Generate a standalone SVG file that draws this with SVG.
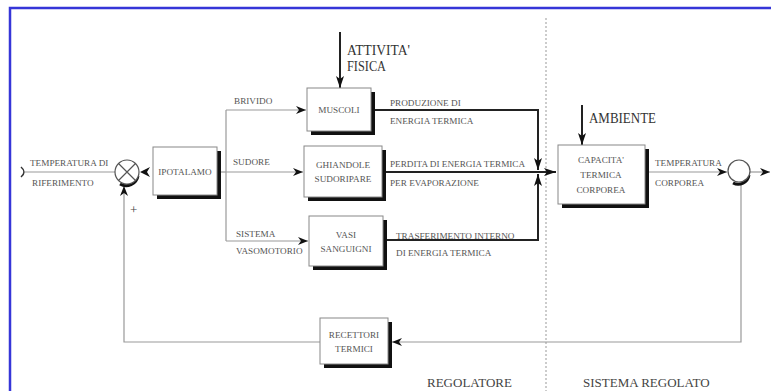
<svg xmlns="http://www.w3.org/2000/svg" width="771" height="391" viewBox="0 0 771 391">
<defs>
<marker id="ah" markerWidth="10" markerHeight="8" refX="10" refY="4" orient="auto" markerUnits="userSpaceOnUse">
<path d="M0,0 L10,4 L0,8 L3,4 z" fill="#111"/>
</marker>
<marker id="ahb" markerWidth="12" markerHeight="8" refX="12" refY="4" orient="auto" markerUnits="userSpaceOnUse">
<path d="M0,0 L12,4 L0,8 L3,4 z" fill="#111"/>
</marker>
</defs>
<style>
.box{fill:#fff;stroke:#888;stroke-width:1}
.sh{fill:#111}
.lab{font-family:"Liberation Serif",serif;font-size:9.2px;fill:#555}
.big{font-family:"Liberation Serif",serif;font-size:15px;fill:#333}
.sec{font-family:"Liberation Serif",serif;font-size:13px;fill:#444}
.thin{fill:none;stroke:#999;stroke-width:1.2}
.thick{fill:none;stroke:#222;stroke-width:2}
</style>
<rect x="10" y="8" width="800" height="400" fill="none" stroke="#3636d8" stroke-width="2.5"/>
<line x1="546" y1="18" x2="546" y2="391" stroke="#999" stroke-width="1" stroke-dasharray="2,2"/>

<g id="connectors">
<path d="M25,172 H115" class="thin"/>
<path d="M220,172 H226" class="thin"/>
<path d="M226,110 V241" class="thin"/>
<path d="M226,110 H306" class="thin" marker-end="url(#ah)"/>
<path d="M226,172 H303" class="thin" marker-end="url(#ah)"/>
<path d="M226,241 H308" class="thin" marker-end="url(#ah)"/>
<path d="M340,32 V88" class="thick" marker-end="url(#ahb)"/>
<path d="M582,105 V145" class="thick" stroke-width="1.6" marker-end="url(#ahb)"/>
<path d="M375,110 H538 V170" class="thick" marker-end="url(#ahb)"/>
<path d="M386,240 H538 V174" class="thick" marker-end="url(#ahb)"/>
<path d="M386,172 H556" class="thick" marker-end="url(#ahb)"/>
<path d="M649,172 H727" class="thin" stroke="#666" marker-end="url(#ah)"/>
<path d="M750,172 H770" class="thin" stroke="#666" marker-end="url(#ah)"/>
<path d="M741,183 V342 H392" class="thin" marker-end="url(#ah)"/>
<path d="M320,342 H124 V186" class="thin" marker-end="url(#ah)"/>
<path d="M150,167 L140,172 L150,177 L147,172 z" fill="#111"/>
</g>

<g id="input">
<path d="M21,167 Q27,172 21,177" fill="none" stroke="#333" stroke-width="1.5"/>
<text class="lab" x="30" y="166">TEMPERATURA DI</text>
<text class="lab" x="32" y="186">RIFERIMENTO</text>
</g>

<g id="sum1">
<path d="M138,176 A12,12 0 0 1 120,184" fill="none" stroke="#111" stroke-width="3"/>
<circle cx="127" cy="172" r="12" fill="#fff" stroke="#555" stroke-width="1.2"/>
<path d="M118.5,163.5 L135.5,180.5 M135.5,163.5 L118.5,180.5" stroke="#555" stroke-width="1.2"/>
<text x="130" y="214" style="font-family:'Liberation Serif',serif;font-size:13px;fill:#444">+</text>
</g>

<g id="ipotalamo">
<rect class="sh" x="157" y="151" width="64" height="48"/>
<rect class="box" x="153" y="147" width="64" height="48"/>
<text class="lab" x="185" y="175" text-anchor="middle">IPOTALAMO</text>
</g>

<g id="labels-branches">
<text class="lab" x="234" y="104">BRIVIDO</text>
<text class="lab" x="233" y="165">SUDORE</text>
<text class="lab" x="236" y="237">SISTEMA</text>
<text class="lab" x="236" y="254">VASOMOTORIO</text>
</g>

<g id="attivita">
<text class="big" x="347" y="55" textLength="63" lengthAdjust="spacingAndGlyphs">ATTIVITA'</text>
<text class="big" x="347" y="71" textLength="39" lengthAdjust="spacingAndGlyphs">FISICA</text>
</g>

<g id="muscoli">
<rect class="sh" x="311" y="92" width="64" height="43"/>
<rect class="box" x="307" y="88" width="64" height="43"/>
<text class="lab" x="339" y="113" text-anchor="middle">MUSCOLI</text>
</g>

<g id="ghiandole">
<rect class="sh" x="308" y="150" width="78" height="51"/>
<rect class="box" x="304" y="146" width="78" height="51"/>
<text class="lab" x="343" y="168" text-anchor="middle">GHIANDOLE</text>
<text class="lab" x="343" y="182" text-anchor="middle">SUDORIPARE</text>
</g>

<g id="vasi">
<rect class="sh" x="313" y="220" width="74" height="50"/>
<rect class="box" x="309" y="216" width="74" height="50"/>
<text class="lab" x="346" y="238" text-anchor="middle">VASI</text>
<text class="lab" x="346" y="252" text-anchor="middle">SANGUIGNI</text>
</g>

<g id="energy-labels">
<text class="lab" x="390" y="106">PRODUZIONE   DI</text>
<text class="lab" x="390" y="124">ENERGIA TERMICA</text>
<text class="lab" x="390" y="167">PERDITA DI ENERGIA TERMICA</text>
<text class="lab" x="390" y="186">PER EVAPORAZIONE</text>
<text class="lab" x="396" y="239">TRASFERIMENTO INTERNO</text>
<text class="lab" x="396" y="256">DI ENERGIA TERMICA</text>
</g>

<g id="ambiente">
<text class="big" x="589" y="123" textLength="67" lengthAdjust="spacingAndGlyphs">AMBIENTE</text>
</g>

<g id="capacita">
<rect class="sh" x="562" y="149" width="87" height="59"/>
<rect class="box" x="558" y="145" width="87" height="59"/>
<text class="lab" x="601" y="163" text-anchor="middle">CAPACITA'</text>
<text class="lab" x="601" y="178" text-anchor="middle">TERMICA</text>
<text class="lab" x="601" y="193" text-anchor="middle">CORPOREA</text>
</g>

<g id="temp-labels">
<text class="lab" x="655" y="166">TEMPERATURA</text>
<text class="lab" x="655" y="186">CORPOREA</text>
</g>

<g id="sum2">
<path d="M749,175 A11,11 0 0 1 733,183" fill="none" stroke="#111" stroke-width="3"/>
<circle cx="739" cy="171" r="11" fill="#fff" stroke="#555" stroke-width="1.2"/>
</g>

<g id="recettori">
<rect class="sh" x="324" y="322" width="68" height="46"/>
<rect class="box" x="320" y="318" width="68" height="46"/>
<text class="lab" x="354" y="338" text-anchor="middle">RECETTORI</text>
<text class="lab" x="354" y="352" text-anchor="middle">TERMICI</text>
</g>

<g id="sections">
<text class="sec" x="427" y="387">REGOLATORE</text>
<text class="sec" x="583" y="387">SISTEMA REGOLATO</text>
</g>
</svg>
